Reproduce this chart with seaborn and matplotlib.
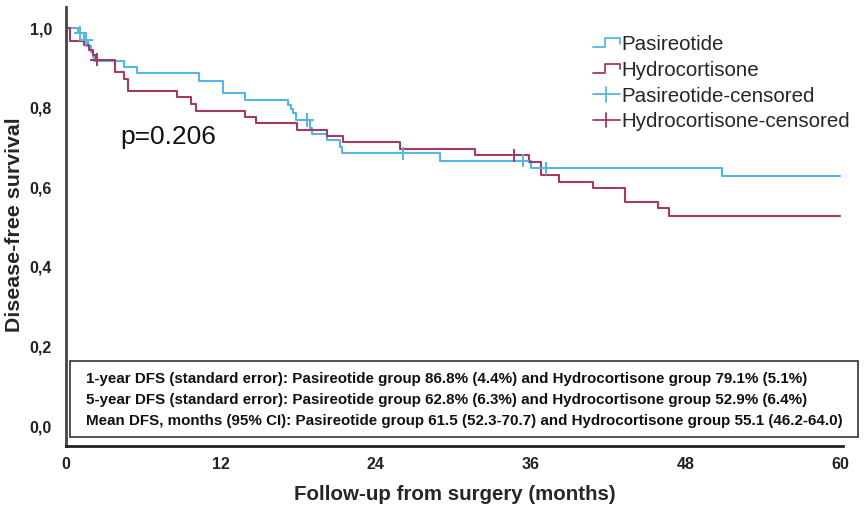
import matplotlib
matplotlib.use("Agg")
import matplotlib.pyplot as plt
import seaborn as sns
import pandas as pd
import numpy as np
from matplotlib.legend_handler import HandlerBase
from matplotlib.lines import Line2D
from matplotlib.patches import Rectangle

# ---------------- data ----------------
pas_t = [0, 0.9, 1.37, 1.67, 1.93, 2.1, 2.2, 4.5, 5.5, 10.3, 12.15, 13.9, 17.2, 17.4,
         17.6, 17.8, 18.9, 19.05, 20.2, 21.2, 21.4, 29.0, 36.0, 50.8, 60.0]
pas_s = [1.0, 0.988, 0.970, 0.955, 0.940, 0.928, 0.918, 0.903, 0.886, 0.868, 0.836, 0.819,
         0.807, 0.796, 0.786, 0.769, 0.748, 0.735, 0.719, 0.702, 0.685, 0.667, 0.648, 0.628, 0.628]
hyd_t = [0, 0.33, 1.37, 1.8, 2.1, 2.3, 3.8, 4.5, 4.84, 8.6, 9.7, 10.1, 13.9, 14.7, 17.9,
         20.2, 21.5, 25.9, 31.7, 35.9, 36.8, 38.2, 40.8, 43.3, 45.9, 46.7, 60.0]
hyd_s = [1.0, 0.968, 0.957, 0.945, 0.932, 0.921, 0.890, 0.871, 0.842, 0.826, 0.810, 0.791,
         0.777, 0.761, 0.744, 0.729, 0.713, 0.696, 0.680, 0.663, 0.632, 0.614, 0.597, 0.564,
         0.548, 0.529, 0.529]
pas_cens_t = [1.1, 1.55, 18.7, 26.1, 35.4, 37.2]
pas_cens_s = [0.988, 0.970, 0.769, 0.685, 0.667, 0.648]
hyd_cens_t = [2.4, 34.7]
hyd_cens_s = [0.921, 0.680]

xticks = [0, 12, 24, 36, 48, 60]
yticks = [0.0, 0.2, 0.4, 0.6, 0.8, 1.0]
ytick_labels = ["0,0", "0,2", "0,4", "0,6", "0,8", "1,0"]
groups = ["Pasireotide", "Hydrocortisone"]
box_lines = [
    "1-year DFS (standard error): Pasireotide group 86.8% (4.4%) and Hydrocortisone group 79.1% (5.1%)",
    "5-year DFS (standard error): Pasireotide group 62.8% (6.3%) and Hydrocortisone group 52.9% (6.4%)",
    "Mean DFS, months (95% CI): Pasireotide group 61.5 (52.3-70.7) and Hydrocortisone group 55.1 (46.2-64.0)",
]
p_text = "p=0.206"

BLUE = "#55B6E4"
RED = "#A33A63"

sns.set_theme(style="white")
plt.rcParams['font.family'] = ['Liberation Sans', 'DejaVu Sans']

df = pd.concat([
    pd.DataFrame({"t": pas_t, "s": pas_s, "g": groups[0]}),
    pd.DataFrame({"t": hyd_t, "s": hyd_s, "g": groups[1]}),
])
cens = pd.concat([
    pd.DataFrame({"t": pas_cens_t, "s": pas_cens_s, "g": groups[0]}),
    pd.DataFrame({"t": hyd_cens_t, "s": hyd_cens_s, "g": groups[1]}),
])
pal = {groups[0]: BLUE, groups[1]: RED}

fig = plt.figure(figsize=(8.68, 5.09), dpi=100)
ax = fig.add_axes([66/868, 1-446/509, (843-66)/868, (446-7)/509])

sns.lineplot(data=df, x="t", y="s", hue="g", palette=pal, drawstyle="steps-post",
             estimator=None, sort=False, lw=1.5, ax=ax, legend=False)
sns.scatterplot(data=cens, x="t", y="s", hue="g", palette=pal, marker="+", s=90,
                linewidth=1.4, ax=ax, legend=False, zorder=5)

ax.set_xlim(0, 60.2)
ax.set_ylim(-0.05, 1.053)
ax.set_xticks(xticks)
ax.set_xticklabels([str(v) for v in xticks], fontweight="bold", fontsize=11.5, color="#222222")
ax.set_yticks(yticks)
ax.set_yticklabels(ytick_labels, fontweight="bold", fontsize=11.5, color="#222222")
ax.tick_params(axis="x", length=0, pad=8)
ax.tick_params(axis="y", length=0, pad=10)
for sp in ["top", "right"]:
    ax.spines[sp].set_visible(False)
ax.spines["left"].set_color("#444444")
ax.spines["left"].set_linewidth(2)
ax.spines["bottom"].set_color("#222222")
ax.spines["bottom"].set_linewidth(2)
ax.set_xlabel("Follow-up from surgery (months)", fontsize=14.8, fontweight="bold")
ax.set_ylabel("Disease-free survival", fontsize=15.4, fontweight="bold")
ax.xaxis.label.set_va("center")
ax.yaxis.label.set_va("center")
ax.xaxis.set_label_coords((455-66)/777, (446-494)/439)
ax.yaxis.set_label_coords((14-66)/777, (446-225)/439)

ax.text(4.2, 0.727, p_text, fontsize=19, color="#111111", va="center", ha="left")

# legend with step icons
class StepHandler(HandlerBase):
    def __init__(self, color):
        super().__init__()
        self.color = color
    def create_artists(self, legend, orig, xd, yd, w, h, fs, trans):
        xs = np.array([0, 0.45, 0.45, 1, 1]) * w - xd
        ys = np.array([0.2, 0.2, 0.8, 0.8, 0.45]) * h - yd
        return [Line2D(xs, ys, color=self.color, lw=1.3, transform=trans)]

class CensHandler(HandlerBase):
    def __init__(self, color):
        super().__init__()
        self.color = color
    def create_artists(self, legend, orig, xd, yd, w, h, fs, trans):
        l1 = Line2D(np.array([0, 1]) * w - xd, np.array([0.5, 0.5]) * h - yd,
                    color=self.color, lw=1.3, transform=trans)
        l2 = Line2D(np.array([0.5, 0.5]) * w - xd, np.array([0.0, 1.0]) * h - yd,
                    color=self.color, lw=1.3, transform=trans)
        return [l1, l2]

h1, h2, h3, h4 = [Line2D([], []) for _ in range(4)]
leg = fig.legend([h1, h2, h3, h4],
                 [groups[0], groups[1], groups[0] + "-censored", groups[1] + "-censored"],
                 handler_map={h1: StepHandler(BLUE), h2: StepHandler(RED),
                              h3: CensHandler(BLUE), h4: CensHandler(RED)},
                 loc="upper left", bbox_to_anchor=(593/868, 1-35/509), frameon=False,
                 fontsize=14.8, handlelength=1.3, handletextpad=0.1, labelspacing=0.33,
                 borderaxespad=0, borderpad=0)

# stats box
fig.add_artist(Rectangle((70/868, 1-437/509), (858-70)/868, (437-361)/509,
                         transform=fig.transFigure, fill=True, facecolor="white",
                         edgecolor="#333333", lw=1.2, zorder=10))
for i, line in enumerate(box_lines):
    fig.text(86/868, 1-(379 + 21*i)/509, line, fontsize=10.9, fontweight="bold",
             va="center", ha="left", color="#111111", zorder=11)

fig.savefig("out.png", dpi=100)
